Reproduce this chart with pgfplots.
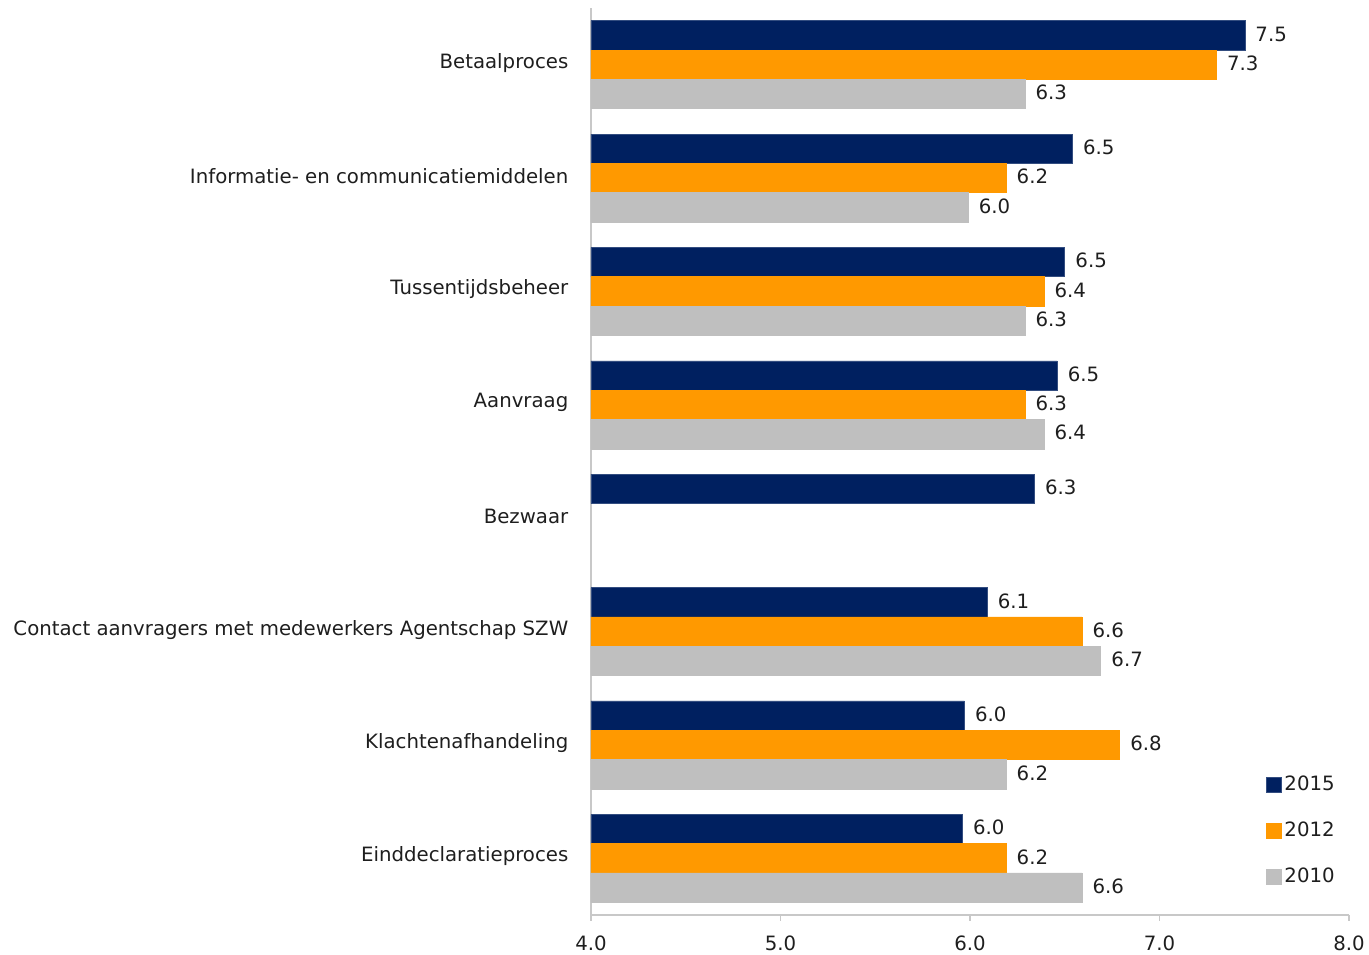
\documentclass[border=0pt]{standalone}
\usepackage{pgfplots}
\pgfplotsset{compat=1.18}
\usepackage{fontspec}
\setmainfont{DejaVu Sans}
\definecolor{c15}{RGB}{0,32,96}
\definecolor{c12}{RGB}{255,153,0}
\definecolor{c10}{RGB}{191,191,191}
\definecolor{axgray}{RGB}{200,200,200}
\definecolor{txt}{RGB}{30,30,30}
\newcommand{\lblfont}{\fontsize{14.8pt}{17pt}\selectfont}
\begin{document}
\begin{tikzpicture}
\begin{axis}[name=ax,
  scale only axis, width=568.5pt, height=680.25pt,
  xmin=4, xmax=8, ymin=-0.5, ymax=7.5,
  xtick={4,5,6,7,8}, xticklabels={4.0,5.0,6.0,7.0,8.0},
  ytick={0,...,7},
  yticklabels={Einddeclaratieproces,Klachtenafhandeling,Contact aanvragers met medewerkers Agentschap SZW,Bezwaar,Aanvraag,Tussentijdsbeheer,Informatie- en communicatiemiddelen,Betaalproces},
  axis x line*=bottom, axis y line*=left,
  axis line style={axgray, line width=1pt},
  every outer x axis line/.append style={-},
  every outer y axis line/.append style={-},
  tick align=outside, major tick length=4.5pt,
  xtick style={axgray, line width=1pt},
  ytick style={draw=none},
  tick label style={font=\lblfont, text=txt},
  yticklabel style={xshift=-9pt, yshift=1.5pt},
  xticklabel style={yshift=-7.5pt},
  xbar, bar width=22pt,
  nodes near coords, point meta=explicit symbolic,
  every node near coord/.append style={font=\lblfont, text=txt, anchor=west, xshift=4.5pt, yshift=1pt},
  clip=false,
  legend style={draw=none, fill=none, at={(0.985,0.03)}, anchor=south east,
    font=\lblfont, text=txt, row sep=18pt, inner sep=0pt},
  legend cell align=left,
  legend image code/.code={\fill[#1] (0pt,-5.6pt) rectangle (11.25pt,5.6pt);},
]
\addplot[fill=c15, draw=c15!80!white, bar shift=22pt] coordinates {
 (7.45,7) [7.5] (6.54,6) [6.5] (6.50,5) [6.5] (6.46,4) [6.5]
 (6.34,3) [6.3] (6.09,2) [6.1] (5.97,1) [6.0] (5.96,0) [6.0]};
\addplot[fill=c12, draw=c12, bar shift=0pt] coordinates {
 (7.30,7) [7.3] (6.19,6) [6.2] (6.39,5) [6.4] (6.29,4) [6.3]
 (6.59,2) [6.6] (6.79,1) [6.8] (6.19,0) [6.2]};
\addplot[fill=c10, draw=c10, bar shift=-22pt] coordinates {
 (6.29,7) [6.3] (5.99,6) [6.0] (6.29,5) [6.3] (6.39,4) [6.4]
 (6.69,2) [6.7] (6.19,1) [6.2] (6.59,0) [6.6]};
\legend{2015,2012,2010}
\end{axis}
\pgfresetboundingbox
\path ([shift={(-443.25pt,-30pt)}]ax.south west) rectangle ([shift={(15pt,6pt)}]ax.north east);
\end{tikzpicture}
\end{document}
